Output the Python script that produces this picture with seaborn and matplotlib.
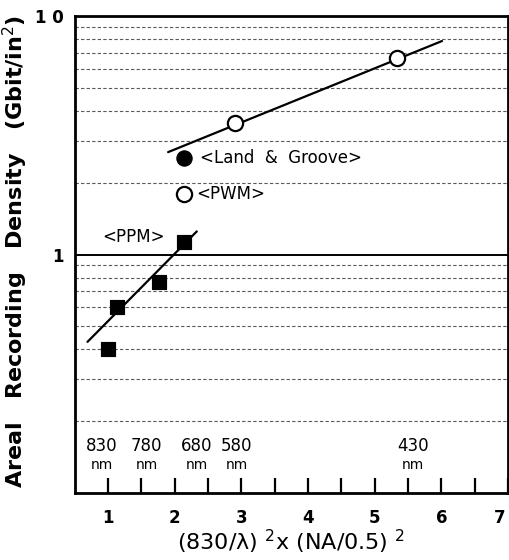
import numpy as np
import pandas as pd
import matplotlib
matplotlib.use("Agg")
import matplotlib.pyplot as plt
import matplotlib.transforms as mtransforms
import seaborn as sns

# values (x = (830/lambda)^2 * (NA/0.5)^2, y in Gbit/in^2)
ppm_x = [1.00, 1.13, 1.76, 2.14]
ppm_y = [0.40, 0.60, 0.77, 1.13]
ppm_fit_x = [0.69, 2.33]
ppm_fit_y = [0.43, 1.25]

lg_x = [2.14]
lg_y = [2.55]

pwm_x = [2.14, 2.90, 5.34]
pwm_y = [1.79, 3.55, 6.68]
pwm_fit_x = [1.90, 6.01]
pwm_fit_y = [2.69, 7.87]

wave_nums = ["830", "780", "680", "580", "430"]
wave_x = [0.90, 1.58, 2.33, 2.93, 5.57]

grid_y = [0.2, 0.3, 0.4, 0.5, 0.6, 0.7, 0.8, 0.9, 2, 3, 4, 5, 6, 7, 8, 9]

sns.set_style("white")
plt.rcParams['font.family'] = ['DejaVu Sans']
plt.rcParams['text.color'] = 'black'
plt.rcParams['axes.labelcolor'] = 'black'
plt.rcParams['xtick.color'] = 'black'
plt.rcParams['ytick.color'] = 'black'

fig, ax = plt.subplots(figsize=(5.09, 5.6), dpi=100)
fig.subplots_adjust(left=0.147, right=0.998, top=0.971, bottom=0.12)

ax.set_yscale("log")
ax.set_xlim(0.5, 7)
ax.set_ylim(0.1, 10)

for g in grid_y:
    ax.axhline(g, color="0.35", lw=0.8, dashes=(3, 2), zorder=0)
ax.axhline(1, color="black", lw=1.4, zorder=0)

# fitted lines
sns.lineplot(x=ppm_fit_x, y=ppm_fit_y, color="black", lw=1.6, ax=ax)
sns.lineplot(x=pwm_fit_x, y=pwm_fit_y, color="black", lw=1.6, ax=ax)

# data points
sns.scatterplot(x=ppm_x, y=ppm_y, marker="s", s=110, color="black",
                edgecolor="black", ax=ax, zorder=3)
sns.scatterplot(x=lg_x, y=lg_y, marker="o", s=120, color="black",
                edgecolor="black", ax=ax, zorder=3)
sns.scatterplot(x=pwm_x, y=pwm_y, marker="o", s=120, color="white",
                edgecolor="black", linewidth=1.6, ax=ax, zorder=3)

ax.text(2.38, 2.55, "<Land  &  Groove>", fontsize=12, va="center", ha="left")
ax.text(2.32, 1.79, "<PWM>", fontsize=12, va="center", ha="left")
ax.text(0.91, 1.18, "<PPM>", fontsize=12, va="center", ha="left")

for lab, xx in zip(wave_nums, wave_x):
    ax.text(xx, 0.157, lab, fontsize=12, ha="center", va="center")
    ax.text(xx, 0.131, "nm", fontsize=10, ha="center", va="center")

ax.set_xticks(np.arange(1, 7.5, 1))
ax.set_xticks(np.arange(1.5, 7, 1), minor=True)
ax.set_xticklabels(["1", "2", "3", "4", "5", "6", "7"], fontsize=12, fontweight="bold")
ax.tick_params(axis="x", which="both", direction="in", length=11, width=1.6,
               bottom=True, pad=12)
last = ax.get_xticklabels()[-1]
last.set_transform(last.get_transform() +
                   mtransforms.ScaledTranslation(-8 / 100, 0, fig.dpi_scale_trans))
ax.set_yticks([1, 10])
ax.set_yticklabels(["1", "1 0"], fontsize=12, fontweight="bold")
ax.yaxis.set_minor_locator(matplotlib.ticker.NullLocator())
ax.tick_params(axis="y", length=0, pad=8)

for sp in ax.spines.values():
    sp.set_color("black")
    sp.set_linewidth(2)

ax.set_xlabel("(830/λ) $^{2}$x (NA/0.5) $^{2}$", fontsize=16, labelpad=0)
ax.set_ylabel("Areal   Recording   Density   (Gbit/in$^2$)", fontsize=16,
              fontweight="bold")
ax.yaxis.set_label_coords(-0.104, 0.507)

plt.savefig("out.png", dpi=100)
